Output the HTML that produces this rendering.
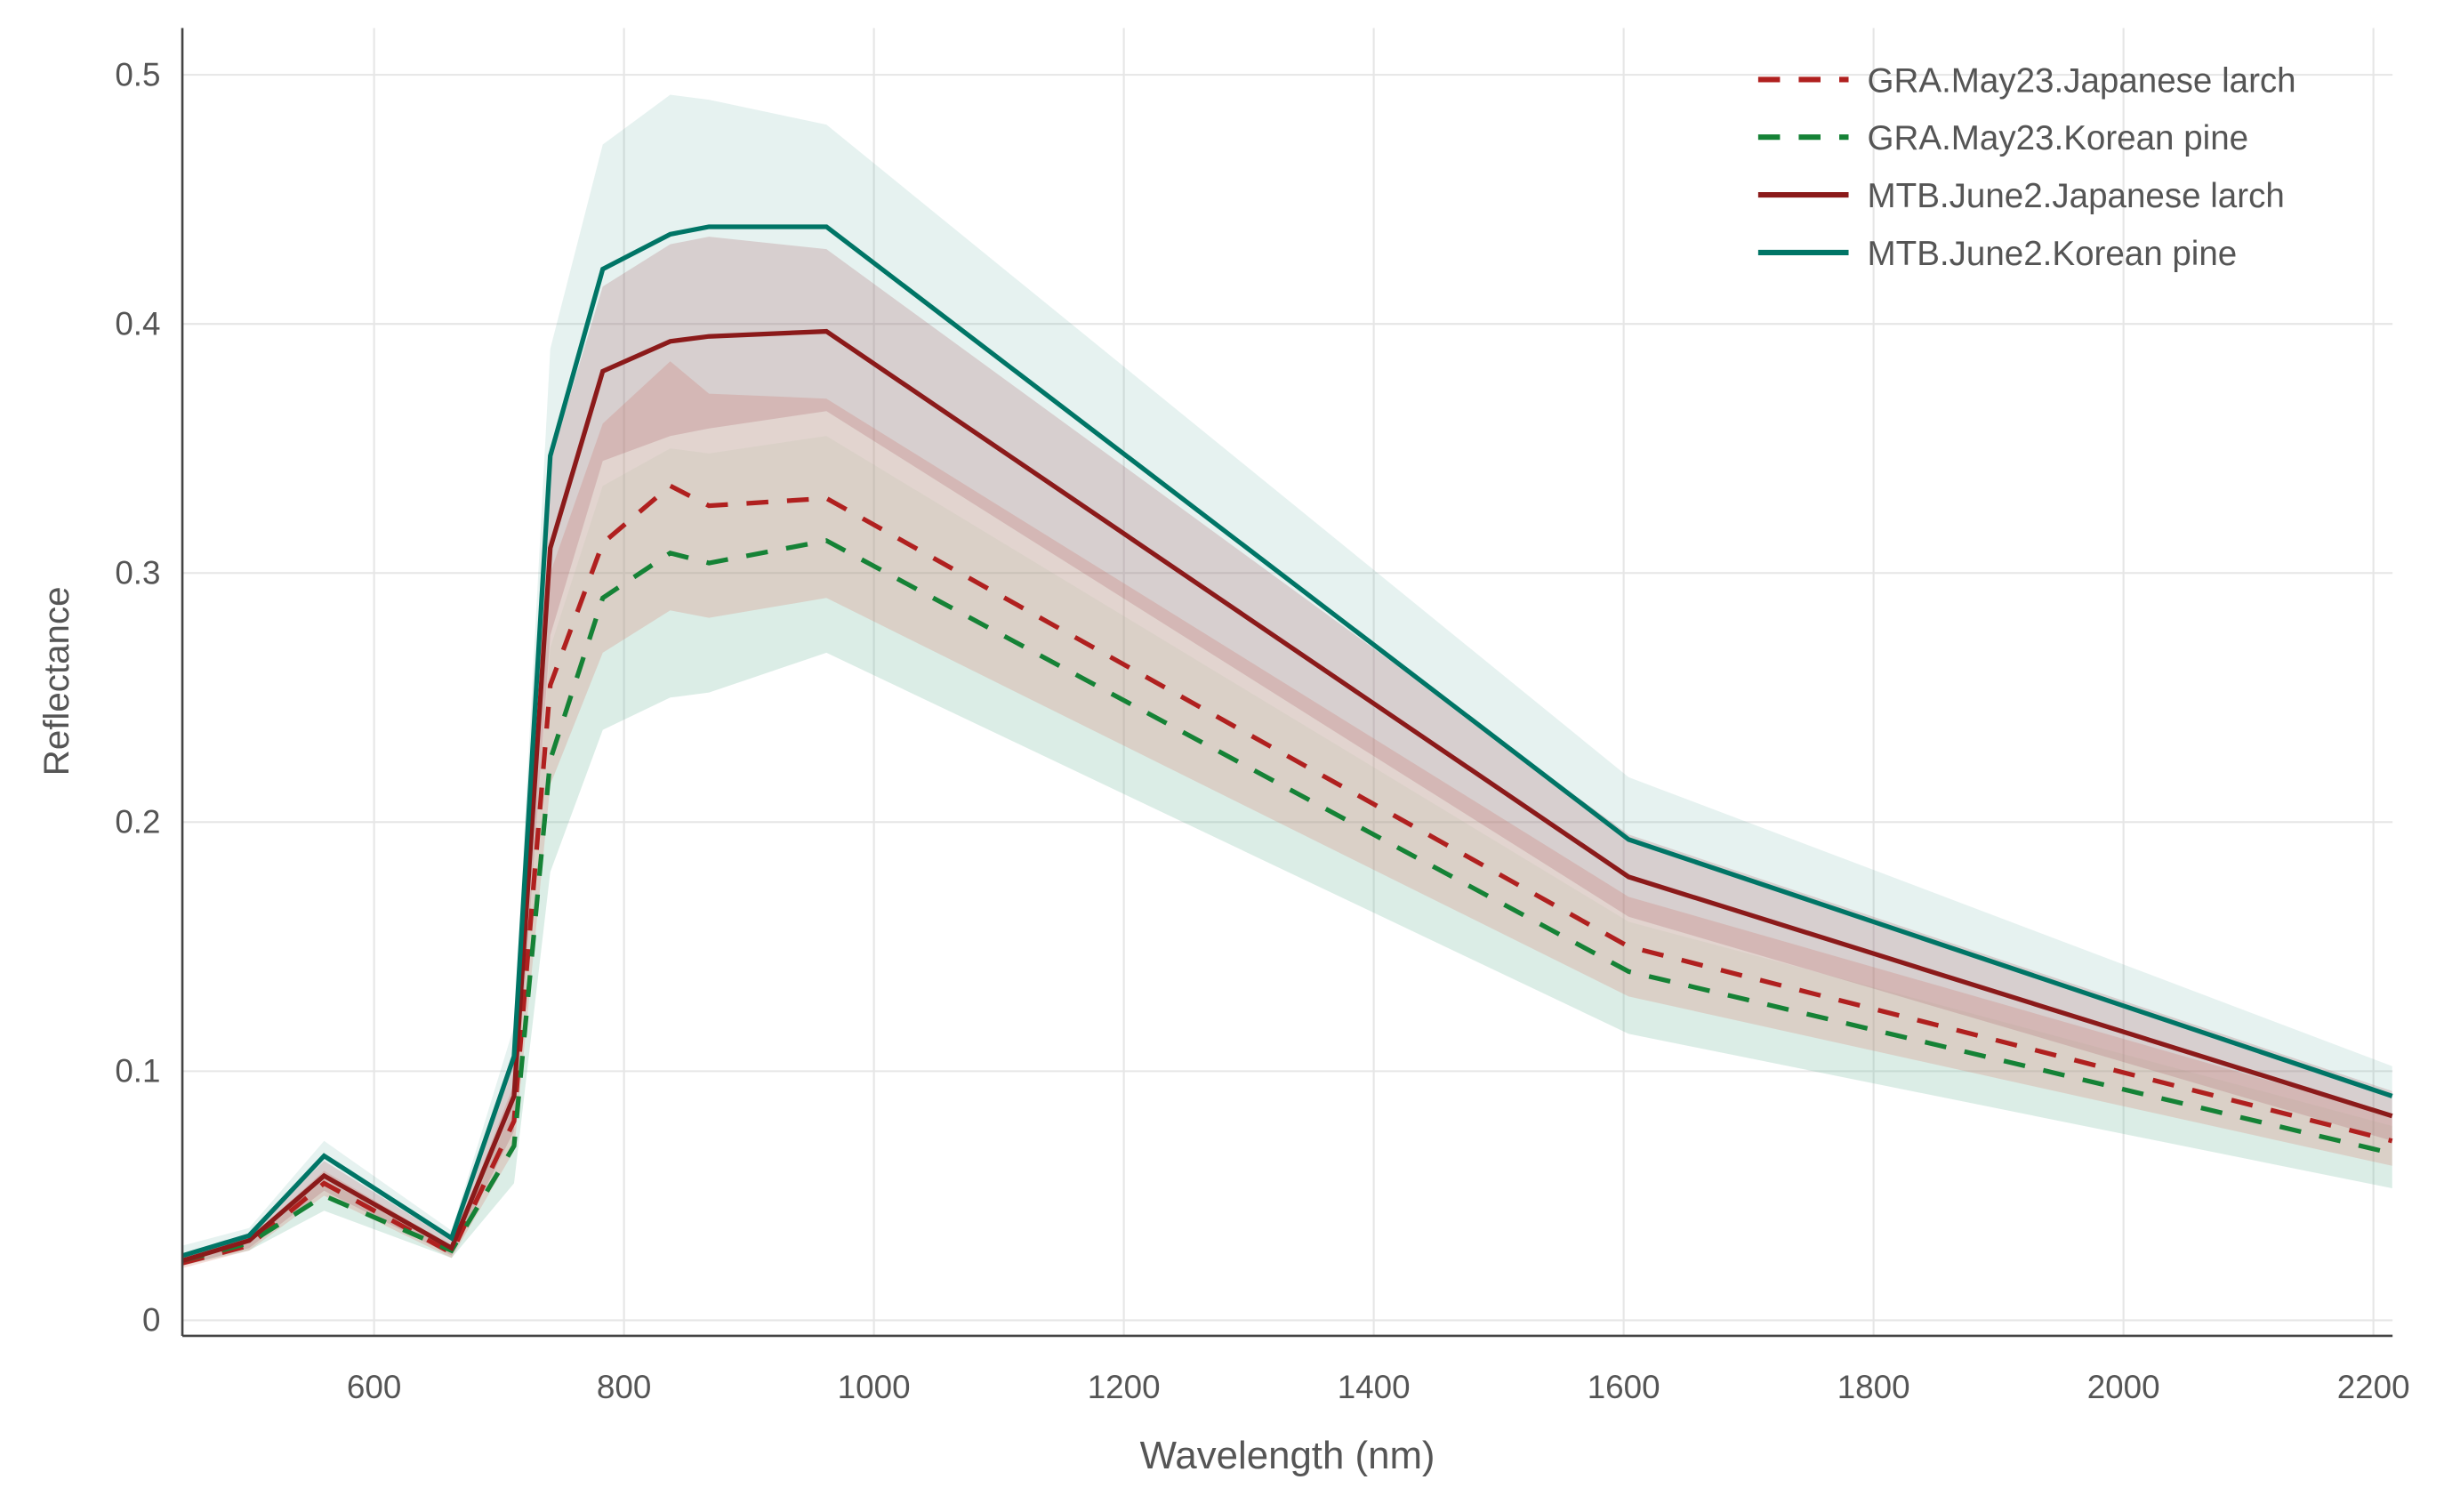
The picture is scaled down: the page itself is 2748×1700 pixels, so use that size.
<!DOCTYPE html>
<html><head><meta charset="utf-8"><style>
html,body{margin:0;padding:0;background:#fff;}
svg{display:block;}
text{font-family:"Liberation Sans",sans-serif;fill:#555;}
</style></head><body>
<svg id="chart" width="2748" height="1700" viewBox="0 0 1568 970" preserveAspectRatio="none" xmlns="http://www.w3.org/2000/svg">
<g id="grid"></g>
<g id="bands"></g>
<g id="lines"></g>
<g id="axes"></g>
<g id="legend"></g>
</svg>
<script>
const wavelengths = [447, 500, 560, 662, 712, 741, 783, 837, 868, 962, 1604, 2215];
const graLarch = [0.023, 0.030, 0.055, 0.027, 0.080, 0.255, 0.312, 0.335, 0.327, 0.330, 0.150, 0.072];
const graPine = [0.024, 0.031, 0.050, 0.028, 0.070, 0.225, 0.290, 0.308, 0.304, 0.313, 0.140, 0.067];
const mtbLarch = [0.024, 0.032, 0.058, 0.029, 0.090, 0.310, 0.381, 0.393, 0.395, 0.397, 0.178, 0.082];
const mtbPine = [0.026, 0.034, 0.066, 0.033, 0.106, 0.347, 0.422, 0.436, 0.439, 0.439, 0.193, 0.090];
const graLarchUp = [0.025, 0.033, 0.060, 0.030, 0.095, 0.300, 0.360, 0.385, 0.372, 0.370, 0.170, 0.082];
const graLarchLo = [0.021, 0.028, 0.050, 0.025, 0.068, 0.215, 0.268, 0.285, 0.282, 0.290, 0.130, 0.062];
const graPineUp = [0.026, 0.034, 0.056, 0.031, 0.085, 0.270, 0.335, 0.350, 0.348, 0.355, 0.160, 0.078];
const graPineLo = [0.022, 0.028, 0.044, 0.025, 0.055, 0.180, 0.237, 0.250, 0.252, 0.268, 0.115, 0.053];
const mtbLarchUp = [0.026, 0.035, 0.064, 0.032, 0.105, 0.345, 0.415, 0.432, 0.435, 0.430, 0.195, 0.092];
const mtbLarchLo = [0.022, 0.029, 0.052, 0.026, 0.076, 0.275, 0.345, 0.355, 0.358, 0.365, 0.162, 0.072];
const mtbPineUp = [0.030, 0.037, 0.072, 0.036, 0.118, 0.390, 0.472, 0.492, 0.490, 0.480, 0.218, 0.102];
const mtbPineLo = [0.022, 0.031, 0.060, 0.030, 0.094, 0.305, 0.372, 0.382, 0.388, 0.398, 0.168, 0.078];
const xTicks = [600, 800, 1000, 1200, 1400, 1600, 1800, 2000, 2200];
const yTicks = [0, 0.1, 0.2, 0.3, 0.4, 0.5];
const yTickLabels = ["0", "0.1", "0.2", "0.3", "0.4", "0.5"];
const seriesNames = ["GRA.May23.Japanese larch", "GRA.May23.Korean pine", "MTB.June2.Japanese larch", "MTB.June2.Korean pine"];

const NS = "http://www.w3.org/2000/svg";
const X = w => 240 + (w - 600) * 0.8017;
const Y = v => 847 - v * 1598;
function mk(tag, attrs, parent) {
  const e = document.createElementNS(NS, tag);
  for (const k in attrs) e.setAttribute(k, attrs[k]);
  parent.appendChild(e);
  return e;
}
const grid = document.getElementById('grid'), bands = document.getElementById('bands'),
      lines = document.getElementById('lines'), axes = document.getElementById('axes'),
      legend = document.getElementById('legend');

xTicks.forEach(t => {
  const g = mk('line', {x1: X(t), x2: X(t), y1: 18, y2: 857, stroke: '#e6e6e6', 'stroke-width': 1.2}, grid);
  
  
  const tx = mk('text', {x: X(t), y: 897, 'text-anchor': 'middle', 'font-size': 21}, axes);
  tx.textContent = t;
  
  
});
yTicks.forEach((t, i) => {
  const g = mk('line', {x1: 117, x2: 1535, y1: Y(t), y2: Y(t), stroke: '#e6e6e6', 'stroke-width': 1.2}, grid);
  
  
  const tx = mk('text', {x: 103, y: Y(t) + 7, 'text-anchor': 'end', 'font-size': 21}, axes);
  tx.textContent = yTickLabels[i];
  
  
});

function bandPath(up, lo) {
  let d = '';
  wavelengths.forEach((w, i) => { d += (i ? 'L' : 'M') + X(w) + ',' + Y(up[i]); });
  for (let i = wavelengths.length - 1; i >= 0; i--) d += 'L' + X(wavelengths[i]) + ',' + Y(lo[i]);
  return d + 'Z';
}
function linePath(v) {
  return wavelengths.map((w, i) => (i ? 'L' : 'M') + X(w) + ',' + Y(v[i])).join('');
}
const b1 = mk('path', {d: bandPath(mtbPineUp, graPineLo), fill: '#5aa89c', 'fill-opacity': 0.15}, bands);


const b2 = mk('path', {d: bandPath(graPineUp, graPineLo), fill: '#8fcfa5', 'fill-opacity': 0.12}, bands);


const b3 = mk('path', {d: bandPath(graLarchUp, graLarchLo), fill: '#d77a6a', 'fill-opacity': 0.25}, bands);


const b4 = mk('path', {d: bandPath(mtbLarchUp, mtbLarchLo), fill: '#a4505c', 'fill-opacity': 0.22}, bands);



const l1 = mk('path', {d: linePath(graLarch), fill: 'none', stroke: '#b0201f', 'stroke-width': 3, 'stroke-dasharray': '14,12'}, lines);


const l2 = mk('path', {d: linePath(graPine), fill: 'none', stroke: '#158236', 'stroke-width': 3, 'stroke-dasharray': '14,12'}, lines);


const l3 = mk('path', {d: linePath(mtbLarch), fill: 'none', stroke: '#8b1a1a', 'stroke-width': 3}, lines);


const l4 = mk('path', {d: linePath(mtbPine), fill: 'none', stroke: '#007566', 'stroke-width': 3}, lines);



const ax1 = mk('line', {x1: 117, x2: 117, y1: 18, y2: 857, stroke: '#444', 'stroke-width': 1.5}, axes);


const ax2 = mk('line', {x1: 117, x2: 1535, y1: 857, y2: 857, stroke: '#444', 'stroke-width': 1.5}, axes);


const xt = mk('text', {x: 826, y: 942, 'text-anchor': 'middle', 'font-size': 25}, axes);
xt.textContent = 'Wavelength (nm)';


const yt = mk('text', {x: 44, y: 437, 'text-anchor': 'middle', 'font-size': 23, transform: 'rotate(-90 44 437)'}, axes);
yt.textContent = 'Reflectance';



const legColors = ['#b0201f', '#158236', '#8b1a1a', '#007566'];
const legDash = ['14,12', '14,12', '', ''];
seriesNames.forEach((n, i) => {
  const y = 51 + i * 37;
  const g = mk('g', {}, legend);
  
  
  const ln = mk('line', {x1: 1128, x2: 1186, y1: y, y2: y, stroke: legColors[i], 'stroke-width': 3.5}, g);
  if (legDash[i]) ln.setAttribute('stroke-dasharray', legDash[i]);
  const t = mk('text', {x: 1198, y: y + 8, 'font-size': 22}, g);
  t.textContent = n;
});
</script>
</body></html>
